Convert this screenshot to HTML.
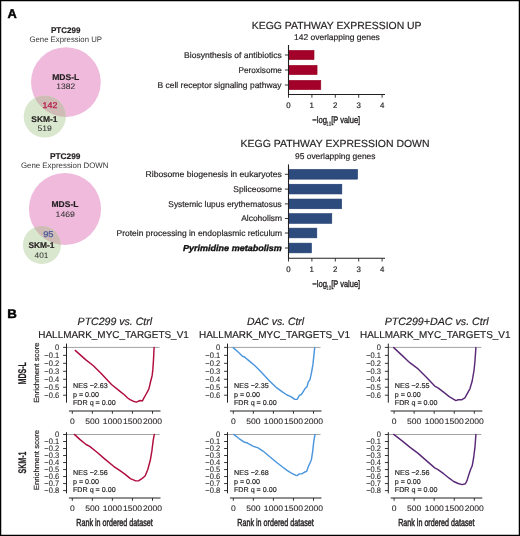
<!DOCTYPE html>
<html><head><meta charset="utf-8"><style>
html,body{margin:0;padding:0;background:#fff;overflow:hidden;width:520px;height:536px;}
svg{display:block;will-change:transform;text-rendering:geometricPrecision;font-family:"Liberation Sans",sans-serif;}
</style></head><body>
<svg width="520" height="536" viewBox="0 0 520 536">
<rect width="520" height="536" fill="#fff"/>
<rect x="0.6" y="0.6" width="518.8" height="534.8" fill="none" stroke="#000" stroke-width="1.3"/>
<text x="7.47" y="18.45" font-size="12.8" font-weight="bold" fill="#000" textLength="9.27" lengthAdjust="spacingAndGlyphs" stroke="#000" stroke-width="0.45">A</text>
<text x="7.32" y="317.70" font-size="12.4" font-weight="bold" fill="#000" textLength="9.59" lengthAdjust="spacingAndGlyphs" stroke="#000" stroke-width="0.45">B</text>
<clipPath id="c1"><circle cx="44.8" cy="116.5" r="21.1"/></clipPath>
<circle cx="65.9" cy="82.1" r="34.9" fill="#efbadb"/>
<circle cx="44.8" cy="116.5" r="21.1" fill="#d8e7cd"/>
<circle cx="65.9" cy="82.1" r="34.9" fill="#cfbcb7" clip-path="url(#c1)"/>
<text x="50.97" y="33.00" font-size="8.2" font-weight="bold" fill="#231f20" textLength="29.42" lengthAdjust="spacingAndGlyphs" stroke="#231f20" stroke-width="0.18">PTC299</text>
<text x="29.51" y="41.60" font-size="7.9" fill="#3a3a3a" textLength="72.41" lengthAdjust="spacingAndGlyphs" stroke="#3a3a3a" stroke-width="0.01">Gene Expression UP</text>
<text x="52.23" y="79.80" font-size="8.3" font-weight="bold" fill="#231f20" textLength="27.12" lengthAdjust="spacingAndGlyphs" stroke="#231f20" stroke-width="0.18">MDS-L</text>
<text x="56.36" y="89.30" font-size="8.0" fill="#333" textLength="18.87" lengthAdjust="spacingAndGlyphs" stroke="#333" stroke-width="0.05">1382</text>
<text x="42.63" y="107.70" font-size="8.3" fill="#b81a48" textLength="14.72" lengthAdjust="spacingAndGlyphs" stroke="#b81a48" stroke-width="0.3">142</text>
<text x="31.35" y="121.60" font-size="8.3" font-weight="bold" fill="#231f20" textLength="26.18" lengthAdjust="spacingAndGlyphs" stroke="#231f20" stroke-width="0.18">SKM-1</text>
<text x="37.56" y="130.70" font-size="8.0" fill="#333" textLength="14.36" lengthAdjust="spacingAndGlyphs" stroke="#333" stroke-width="0.05">519</text>
<clipPath id="c2"><circle cx="41.9" cy="245.0" r="19.0"/></clipPath>
<circle cx="65.0" cy="209.0" r="36.1" fill="#efbadb"/>
<circle cx="41.9" cy="245.0" r="19.0" fill="#d8e7cd"/>
<circle cx="65.0" cy="209.0" r="36.1" fill="#cfbcb7" clip-path="url(#c2)"/>
<text x="49.95" y="159.20" font-size="8.2" font-weight="bold" fill="#231f20" textLength="30.55" lengthAdjust="spacingAndGlyphs" stroke="#231f20" stroke-width="0.18">PTC299</text>
<text x="20.91" y="168.20" font-size="7.9" fill="#3a3a3a" textLength="87.55" lengthAdjust="spacingAndGlyphs" stroke="#3a3a3a" stroke-width="0.01">Gene Expression DOWN</text>
<text x="51.54" y="207.30" font-size="8.3" font-weight="bold" fill="#231f20" textLength="26.92" lengthAdjust="spacingAndGlyphs" stroke="#231f20" stroke-width="0.18">MDS-L</text>
<text x="55.64" y="216.60" font-size="8.0" fill="#333" textLength="19.28" lengthAdjust="spacingAndGlyphs" stroke="#333" stroke-width="0.05">1469</text>
<text x="43.17" y="236.80" font-size="8.3" fill="#44599a" textLength="10.32" lengthAdjust="spacingAndGlyphs" stroke="#44599a" stroke-width="0.25">95</text>
<text x="28.45" y="248.40" font-size="8.3" font-weight="bold" fill="#231f20" textLength="25.98" lengthAdjust="spacingAndGlyphs" stroke="#231f20" stroke-width="0.18">SKM-1</text>
<text x="34.62" y="257.60" font-size="8.0" fill="#333" textLength="13.78" lengthAdjust="spacingAndGlyphs" stroke="#333" stroke-width="0.05">401</text>
<text x="251.85" y="28.50" font-size="10.3" fill="#231f20" textLength="169.71" lengthAdjust="spacingAndGlyphs" stroke="#231f20" stroke-width="0.18">KEGG PATHWAY EXPRESSION UP</text>
<text x="293.95" y="40.00" font-size="8.3" fill="#231f20" textLength="85.94" lengthAdjust="spacingAndGlyphs" stroke="#231f20" stroke-width="0.18">142 overlapping genes</text>
<rect x="288.5" y="50.40" width="25.51" height="9.2" fill="#a3002a" stroke="#93001f" stroke-width="0.6"/>
<rect x="288.5" y="65.40" width="28.55" height="9.2" fill="#a3002a" stroke="#93001f" stroke-width="0.6"/>
<rect x="288.5" y="80.40" width="32.29" height="9.2" fill="#a3002a" stroke="#93001f" stroke-width="0.6"/>
<line x1="288.5" y1="45.0" x2="288.5" y2="95.0" stroke="#231f20" stroke-width="1.1"/>
<line x1="284.9" y1="55" x2="288.5" y2="55" stroke="#231f20" stroke-width="0.9"/>
<line x1="284.9" y1="70" x2="288.5" y2="70" stroke="#231f20" stroke-width="0.9"/>
<line x1="284.9" y1="85" x2="288.5" y2="85" stroke="#231f20" stroke-width="0.9"/>
<line x1="288.5" y1="94.5" x2="385.0" y2="94.5" stroke="#231f20" stroke-width="1.1"/>
<line x1="288.50" y1="94.5" x2="288.50" y2="97.7" stroke="#231f20" stroke-width="0.9"/>
<text x="286.31" y="108.20" font-size="8.0" fill="#231f20" textLength="4.36" lengthAdjust="spacingAndGlyphs" stroke="#231f20" stroke-width="0.2">0</text>
<line x1="311.90" y1="94.5" x2="311.90" y2="97.7" stroke="#231f20" stroke-width="0.9"/>
<text x="309.61" y="108.20" font-size="8.0" fill="#231f20" textLength="4.36" lengthAdjust="spacingAndGlyphs" stroke="#231f20" stroke-width="0.2">1</text>
<line x1="335.30" y1="94.5" x2="335.30" y2="97.7" stroke="#231f20" stroke-width="0.9"/>
<text x="333.12" y="108.20" font-size="8.0" fill="#231f20" textLength="4.36" lengthAdjust="spacingAndGlyphs" stroke="#231f20" stroke-width="0.2">2</text>
<line x1="358.70" y1="94.5" x2="358.70" y2="97.7" stroke="#231f20" stroke-width="0.9"/>
<text x="356.54" y="108.20" font-size="8.0" fill="#231f20" textLength="4.36" lengthAdjust="spacingAndGlyphs" stroke="#231f20" stroke-width="0.2">3</text>
<line x1="382.10" y1="94.5" x2="382.10" y2="97.7" stroke="#231f20" stroke-width="0.9"/>
<text x="379.95" y="108.20" font-size="8.0" fill="#231f20" textLength="4.36" lengthAdjust="spacingAndGlyphs" stroke="#231f20" stroke-width="0.2">4</text>
<text x="312.22" y="122.70" font-size="9.4" fill="#231f20" textLength="14.68" lengthAdjust="spacingAndGlyphs" stroke="#231f20" stroke-width="0.35">−log</text>
<text x="326.26" y="125.70" font-size="6.4" fill="#231f20" textLength="4.90" lengthAdjust="spacingAndGlyphs" stroke="#231f20" stroke-width="0.12">10</text>
<text x="331.16" y="122.70" font-size="9.4" fill="#231f20" textLength="28.97" lengthAdjust="spacingAndGlyphs" stroke="#231f20" stroke-width="0.35">[P value]</text>
<text x="184.10" y="57.80" font-size="8.4" fill="#231f20" textLength="97.71" lengthAdjust="spacingAndGlyphs" stroke="#231f20" stroke-width="0.18">Biosynthesis of antibiotics</text>
<text x="238.53" y="72.80" font-size="8.4" fill="#231f20" textLength="43.33" lengthAdjust="spacingAndGlyphs" stroke="#231f20" stroke-width="0.18">Peroxisome</text>
<text x="157.50" y="87.60" font-size="8.4" fill="#231f20" textLength="124.01" lengthAdjust="spacingAndGlyphs" stroke="#231f20" stroke-width="0.18">B cell receptor signaling pathway</text>
<text x="240.64" y="146.90" font-size="10.3" fill="#231f20" textLength="188.92" lengthAdjust="spacingAndGlyphs" stroke="#231f20" stroke-width="0.18">KEGG PATHWAY EXPRESSION DOWN</text>
<text x="295.01" y="158.60" font-size="8.3" fill="#231f20" textLength="80.48" lengthAdjust="spacingAndGlyphs" stroke="#231f20" stroke-width="0.18">95 overlapping genes</text>
<rect x="288.5" y="169.45" width="69.03" height="9.7" fill="#2e4b7d" stroke="#1f3a6e" stroke-width="0.6"/>
<rect x="288.5" y="184.25" width="53.35" height="9.7" fill="#2e4b7d" stroke="#1f3a6e" stroke-width="0.6"/>
<rect x="288.5" y="199.05" width="53.12" height="9.7" fill="#2e4b7d" stroke="#1f3a6e" stroke-width="0.6"/>
<rect x="288.5" y="213.65" width="43.29" height="9.7" fill="#2e4b7d" stroke="#1f3a6e" stroke-width="0.6"/>
<rect x="288.5" y="228.15" width="28.31" height="9.7" fill="#2e4b7d" stroke="#1f3a6e" stroke-width="0.6"/>
<rect x="288.5" y="243.15" width="22.93" height="9.7" fill="#2e4b7d" stroke="#1f3a6e" stroke-width="0.6"/>
<line x1="288.5" y1="164.4" x2="288.5" y2="259.0" stroke="#231f20" stroke-width="1.1"/>
<line x1="284.9" y1="174.3" x2="288.5" y2="174.3" stroke="#231f20" stroke-width="0.9"/>
<line x1="284.9" y1="189.1" x2="288.5" y2="189.1" stroke="#231f20" stroke-width="0.9"/>
<line x1="284.9" y1="203.9" x2="288.5" y2="203.9" stroke="#231f20" stroke-width="0.9"/>
<line x1="284.9" y1="218.5" x2="288.5" y2="218.5" stroke="#231f20" stroke-width="0.9"/>
<line x1="284.9" y1="233.0" x2="288.5" y2="233.0" stroke="#231f20" stroke-width="0.9"/>
<line x1="284.9" y1="248.0" x2="288.5" y2="248.0" stroke="#231f20" stroke-width="0.9"/>
<line x1="288.5" y1="258.3" x2="385.0" y2="258.3" stroke="#231f20" stroke-width="1.1"/>
<line x1="288.50" y1="258.3" x2="288.50" y2="261.5" stroke="#231f20" stroke-width="0.9"/>
<text x="286.31" y="272.00" font-size="8.0" fill="#231f20" textLength="4.36" lengthAdjust="spacingAndGlyphs" stroke="#231f20" stroke-width="0.2">0</text>
<line x1="311.90" y1="258.3" x2="311.90" y2="261.5" stroke="#231f20" stroke-width="0.9"/>
<text x="309.61" y="272.00" font-size="8.0" fill="#231f20" textLength="4.36" lengthAdjust="spacingAndGlyphs" stroke="#231f20" stroke-width="0.2">1</text>
<line x1="335.30" y1="258.3" x2="335.30" y2="261.5" stroke="#231f20" stroke-width="0.9"/>
<text x="333.12" y="272.00" font-size="8.0" fill="#231f20" textLength="4.36" lengthAdjust="spacingAndGlyphs" stroke="#231f20" stroke-width="0.2">2</text>
<line x1="358.70" y1="258.3" x2="358.70" y2="261.5" stroke="#231f20" stroke-width="0.9"/>
<text x="356.54" y="272.00" font-size="8.0" fill="#231f20" textLength="4.36" lengthAdjust="spacingAndGlyphs" stroke="#231f20" stroke-width="0.2">3</text>
<line x1="382.10" y1="258.3" x2="382.10" y2="261.5" stroke="#231f20" stroke-width="0.9"/>
<text x="379.95" y="272.00" font-size="8.0" fill="#231f20" textLength="4.36" lengthAdjust="spacingAndGlyphs" stroke="#231f20" stroke-width="0.2">4</text>
<text x="312.22" y="286.50" font-size="9.4" fill="#231f20" textLength="14.68" lengthAdjust="spacingAndGlyphs" stroke="#231f20" stroke-width="0.35">−log</text>
<text x="326.26" y="289.50" font-size="6.4" fill="#231f20" textLength="4.90" lengthAdjust="spacingAndGlyphs" stroke="#231f20" stroke-width="0.12">10</text>
<text x="331.16" y="286.50" font-size="9.4" fill="#231f20" textLength="28.97" lengthAdjust="spacingAndGlyphs" stroke="#231f20" stroke-width="0.35">[P value]</text>
<text x="145.49" y="177.00" font-size="8.4" fill="#231f20" textLength="136.32" lengthAdjust="spacingAndGlyphs" stroke="#231f20" stroke-width="0.18">Ribosome biogenesis in eukaryotes</text>
<text x="233.31" y="191.80" font-size="8.4" fill="#231f20" textLength="48.57" lengthAdjust="spacingAndGlyphs" stroke="#231f20" stroke-width="0.18">Spliceosome</text>
<text x="168.32" y="206.60" font-size="8.4" fill="#231f20" textLength="113.48" lengthAdjust="spacingAndGlyphs" stroke="#231f20" stroke-width="0.18">Systemic lupus erythematosus</text>
<text x="241.18" y="221.10" font-size="8.4" fill="#231f20" textLength="40.87" lengthAdjust="spacingAndGlyphs" stroke="#231f20" stroke-width="0.18">Alcoholism</text>
<text x="116.61" y="235.90" font-size="8.4" fill="#231f20" textLength="165.44" lengthAdjust="spacingAndGlyphs" stroke="#231f20" stroke-width="0.18">Protein processing in endoplasmic reticulum</text>
<text x="182.94" y="250.70" font-size="8.6" font-weight="bold" font-style="italic" fill="#111" textLength="98.94" lengthAdjust="spacingAndGlyphs" stroke="#111" stroke-width="0.35">Pyrimidine metabolism</text>
<text x="77.58" y="325.00" font-size="10.6" font-style="italic" fill="#231f20" textLength="74.58" lengthAdjust="spacingAndGlyphs" stroke="#231f20" stroke-width="0.18">PTC299 vs. Ctrl</text>
<text x="38.34" y="337.90" font-size="10.0" fill="#231f20" textLength="150.45" lengthAdjust="spacingAndGlyphs" stroke="#231f20" stroke-width="0.18">HALLMARK_MYC_TARGETS_V1</text>
<line x1="66.5" y1="347.4" x2="159.5" y2="347.4" stroke="#8c8c8c" stroke-width="0.8"/>
<line x1="66.5" y1="343.6" x2="66.5" y2="402.7" stroke="#231f20" stroke-width="1.0"/>
<line x1="63.1" y1="347.40" x2="66.5" y2="347.40" stroke="#231f20" stroke-width="0.9"/>
<text x="55.02" y="350.20" font-size="8.0" fill="#231f20" textLength="4.18" lengthAdjust="spacingAndGlyphs" stroke="#231f20" stroke-width="0.08">0</text>
<line x1="63.1" y1="355.37" x2="66.5" y2="355.37" stroke="#231f20" stroke-width="0.9"/>
<text x="44.35" y="358.17" font-size="8.0" fill="#231f20" textLength="14.85" lengthAdjust="spacingAndGlyphs" stroke="#231f20" stroke-width="0.08">−0.1</text>
<line x1="63.1" y1="363.34" x2="66.5" y2="363.34" stroke="#231f20" stroke-width="0.9"/>
<text x="44.35" y="366.14" font-size="8.0" fill="#231f20" textLength="14.85" lengthAdjust="spacingAndGlyphs" stroke="#231f20" stroke-width="0.08">−0.2</text>
<line x1="63.1" y1="371.31" x2="66.5" y2="371.31" stroke="#231f20" stroke-width="0.9"/>
<text x="44.35" y="374.11" font-size="8.0" fill="#231f20" textLength="14.85" lengthAdjust="spacingAndGlyphs" stroke="#231f20" stroke-width="0.08">−0.3</text>
<line x1="63.1" y1="379.28" x2="66.5" y2="379.28" stroke="#231f20" stroke-width="0.9"/>
<text x="44.35" y="382.08" font-size="8.0" fill="#231f20" textLength="14.85" lengthAdjust="spacingAndGlyphs" stroke="#231f20" stroke-width="0.08">−0.4</text>
<line x1="63.1" y1="387.25" x2="66.5" y2="387.25" stroke="#231f20" stroke-width="0.9"/>
<text x="44.35" y="390.05" font-size="8.0" fill="#231f20" textLength="14.85" lengthAdjust="spacingAndGlyphs" stroke="#231f20" stroke-width="0.08">−0.5</text>
<line x1="63.1" y1="395.22" x2="66.5" y2="395.22" stroke="#231f20" stroke-width="0.9"/>
<text x="44.35" y="398.02" font-size="8.0" fill="#231f20" textLength="14.85" lengthAdjust="spacingAndGlyphs" stroke="#231f20" stroke-width="0.08">−0.6</text>
<line x1="68.9" y1="411.0" x2="160.5" y2="411.0" stroke="#231f20" stroke-width="1.0"/>
<line x1="72.30" y1="411.0" x2="72.30" y2="413.8" stroke="#231f20" stroke-width="0.9"/>
<text x="69.92" y="424.40" font-size="8.0" fill="#231f20" textLength="4.76" lengthAdjust="spacingAndGlyphs" stroke="#231f20" stroke-width="0.08">0</text>
<line x1="92.35" y1="411.0" x2="92.35" y2="413.8" stroke="#231f20" stroke-width="0.9"/>
<text x="85.21" y="424.40" font-size="8.0" fill="#231f20" textLength="14.28" lengthAdjust="spacingAndGlyphs" stroke="#231f20" stroke-width="0.08">500</text>
<line x1="112.40" y1="411.0" x2="112.40" y2="413.8" stroke="#231f20" stroke-width="0.9"/>
<text x="102.88" y="424.40" font-size="8.0" fill="#231f20" textLength="19.04" lengthAdjust="spacingAndGlyphs" stroke="#231f20" stroke-width="0.08">1000</text>
<line x1="132.45" y1="411.0" x2="132.45" y2="413.8" stroke="#231f20" stroke-width="0.9"/>
<text x="122.93" y="424.40" font-size="8.0" fill="#231f20" textLength="19.04" lengthAdjust="spacingAndGlyphs" stroke="#231f20" stroke-width="0.08">1500</text>
<line x1="152.50" y1="411.0" x2="152.50" y2="413.8" stroke="#231f20" stroke-width="0.9"/>
<text x="142.98" y="424.40" font-size="8.0" fill="#231f20" textLength="19.04" lengthAdjust="spacingAndGlyphs" stroke="#231f20" stroke-width="0.08">2000</text>
<polyline points="75.20,350.40 85.60,359.60 93.40,365.80 101.20,373.60 111.50,384.50 120.00,391.40 124.60,395.00 127.70,398.00 130.00,399.60 133.20,401.20 136.30,402.10 140.10,400.50 142.40,400.90 143.60,398.60 145.90,394.50 148.70,389.40 149.70,385.60 150.60,381.50 151.60,377.70 152.20,375.20 152.80,369.90 153.50,359.70 154.10,347.50" fill="none" stroke="#b00c3e" stroke-width="1.45" stroke-linejoin="round" stroke-linecap="round"/>
<text x="73.00" y="387.60" font-size="7.0" fill="#231f20" textLength="34.73" lengthAdjust="spacingAndGlyphs" stroke="#231f20" stroke-width="0.18">NES −2.63</text>
<text x="73.00" y="396.70" font-size="7.0" fill="#231f20" textLength="26.00" lengthAdjust="spacingAndGlyphs" stroke="#231f20" stroke-width="0.18">p = 0.00</text>
<text x="73.00" y="405.40" font-size="7.0" fill="#231f20" textLength="42.66" lengthAdjust="spacingAndGlyphs" stroke="#231f20" stroke-width="0.18">FDR q = 0.00</text>
<line x1="66.5" y1="434.5" x2="159.5" y2="434.5" stroke="#8c8c8c" stroke-width="0.8"/>
<line x1="66.5" y1="432.2" x2="66.5" y2="493.3" stroke="#231f20" stroke-width="1.0"/>
<line x1="63.1" y1="434.50" x2="66.5" y2="434.50" stroke="#231f20" stroke-width="0.9"/>
<text x="55.02" y="437.30" font-size="8.0" fill="#231f20" textLength="4.18" lengthAdjust="spacingAndGlyphs" stroke="#231f20" stroke-width="0.08">0</text>
<line x1="63.1" y1="441.51" x2="66.5" y2="441.51" stroke="#231f20" stroke-width="0.9"/>
<text x="44.35" y="444.31" font-size="8.0" fill="#231f20" textLength="14.85" lengthAdjust="spacingAndGlyphs" stroke="#231f20" stroke-width="0.08">−0.1</text>
<line x1="63.1" y1="448.52" x2="66.5" y2="448.52" stroke="#231f20" stroke-width="0.9"/>
<text x="44.35" y="451.32" font-size="8.0" fill="#231f20" textLength="14.85" lengthAdjust="spacingAndGlyphs" stroke="#231f20" stroke-width="0.08">−0.2</text>
<line x1="63.1" y1="455.53" x2="66.5" y2="455.53" stroke="#231f20" stroke-width="0.9"/>
<text x="44.35" y="458.33" font-size="8.0" fill="#231f20" textLength="14.85" lengthAdjust="spacingAndGlyphs" stroke="#231f20" stroke-width="0.08">−0.3</text>
<line x1="63.1" y1="462.54" x2="66.5" y2="462.54" stroke="#231f20" stroke-width="0.9"/>
<text x="44.35" y="465.34" font-size="8.0" fill="#231f20" textLength="14.85" lengthAdjust="spacingAndGlyphs" stroke="#231f20" stroke-width="0.08">−0.4</text>
<line x1="63.1" y1="469.55" x2="66.5" y2="469.55" stroke="#231f20" stroke-width="0.9"/>
<text x="44.35" y="472.35" font-size="8.0" fill="#231f20" textLength="14.85" lengthAdjust="spacingAndGlyphs" stroke="#231f20" stroke-width="0.08">−0.5</text>
<line x1="63.1" y1="476.56" x2="66.5" y2="476.56" stroke="#231f20" stroke-width="0.9"/>
<text x="44.35" y="479.36" font-size="8.0" fill="#231f20" textLength="14.85" lengthAdjust="spacingAndGlyphs" stroke="#231f20" stroke-width="0.08">−0.6</text>
<line x1="63.1" y1="483.57" x2="66.5" y2="483.57" stroke="#231f20" stroke-width="0.9"/>
<text x="44.35" y="486.37" font-size="8.0" fill="#231f20" textLength="14.85" lengthAdjust="spacingAndGlyphs" stroke="#231f20" stroke-width="0.08">−0.7</text>
<line x1="63.1" y1="490.58" x2="66.5" y2="490.58" stroke="#231f20" stroke-width="0.9"/>
<text x="44.35" y="493.38" font-size="8.0" fill="#231f20" textLength="14.85" lengthAdjust="spacingAndGlyphs" stroke="#231f20" stroke-width="0.08">−0.8</text>
<line x1="68.9" y1="498.0" x2="160.5" y2="498.0" stroke="#231f20" stroke-width="1.0"/>
<line x1="72.30" y1="498.0" x2="72.30" y2="500.8" stroke="#231f20" stroke-width="0.9"/>
<text x="69.92" y="511.40" font-size="8.0" fill="#231f20" textLength="4.76" lengthAdjust="spacingAndGlyphs" stroke="#231f20" stroke-width="0.08">0</text>
<line x1="92.35" y1="498.0" x2="92.35" y2="500.8" stroke="#231f20" stroke-width="0.9"/>
<text x="85.21" y="511.40" font-size="8.0" fill="#231f20" textLength="14.28" lengthAdjust="spacingAndGlyphs" stroke="#231f20" stroke-width="0.08">500</text>
<line x1="112.40" y1="498.0" x2="112.40" y2="500.8" stroke="#231f20" stroke-width="0.9"/>
<text x="102.88" y="511.40" font-size="8.0" fill="#231f20" textLength="19.04" lengthAdjust="spacingAndGlyphs" stroke="#231f20" stroke-width="0.08">1000</text>
<line x1="132.45" y1="498.0" x2="132.45" y2="500.8" stroke="#231f20" stroke-width="0.9"/>
<text x="122.93" y="511.40" font-size="8.0" fill="#231f20" textLength="19.04" lengthAdjust="spacingAndGlyphs" stroke="#231f20" stroke-width="0.08">1500</text>
<line x1="152.50" y1="498.0" x2="152.50" y2="500.8" stroke="#231f20" stroke-width="0.9"/>
<text x="142.98" y="511.40" font-size="8.0" fill="#231f20" textLength="19.04" lengthAdjust="spacingAndGlyphs" stroke="#231f20" stroke-width="0.08">2000</text>
<polyline points="74.40,434.40 80.40,439.90 86.10,444.50 89.70,446.40 97.00,452.30 104.30,458.60 113.60,466.30 120.00,470.70 125.20,474.40 130.40,478.60 135.70,480.90 138.80,480.70 141.90,478.60 145.10,476.00 147.70,469.70 150.30,460.30 151.90,450.90 153.20,440.40 154.30,434.40" fill="none" stroke="#b00c3e" stroke-width="1.45" stroke-linejoin="round" stroke-linecap="round"/>
<text x="73.00" y="474.60" font-size="7.0" fill="#231f20" textLength="34.73" lengthAdjust="spacingAndGlyphs" stroke="#231f20" stroke-width="0.18">NES −2.56</text>
<text x="73.00" y="483.70" font-size="7.0" fill="#231f20" textLength="26.00" lengthAdjust="spacingAndGlyphs" stroke="#231f20" stroke-width="0.18">p = 0.00</text>
<text x="73.00" y="492.40" font-size="7.0" fill="#231f20" textLength="42.66" lengthAdjust="spacingAndGlyphs" stroke="#231f20" stroke-width="0.18">FDR q = 0.00</text>
<text x="76.33" y="525.50" font-size="10.3" fill="#231f20" textLength="76.41" lengthAdjust="spacingAndGlyphs" stroke="#231f20" stroke-width="0.45">Rank in ordered dataset</text>
<text x="246.89" y="325.00" font-size="10.6" font-style="italic" fill="#231f20" textLength="57.28" lengthAdjust="spacingAndGlyphs" stroke="#231f20" stroke-width="0.18">DAC vs. Ctrl</text>
<text x="198.98" y="337.90" font-size="10.0" fill="#231f20" textLength="151.00" lengthAdjust="spacingAndGlyphs" stroke="#231f20" stroke-width="0.18">HALLMARK_MYC_TARGETS_V1</text>
<line x1="227.5" y1="347.4" x2="320.5" y2="347.4" stroke="#8c8c8c" stroke-width="0.8"/>
<line x1="227.5" y1="343.6" x2="227.5" y2="402.7" stroke="#231f20" stroke-width="1.0"/>
<line x1="224.1" y1="347.40" x2="227.5" y2="347.40" stroke="#231f20" stroke-width="0.9"/>
<text x="216.02" y="350.20" font-size="8.0" fill="#231f20" textLength="4.18" lengthAdjust="spacingAndGlyphs" stroke="#231f20" stroke-width="0.08">0</text>
<line x1="224.1" y1="355.37" x2="227.5" y2="355.37" stroke="#231f20" stroke-width="0.9"/>
<text x="205.35" y="358.17" font-size="8.0" fill="#231f20" textLength="14.85" lengthAdjust="spacingAndGlyphs" stroke="#231f20" stroke-width="0.08">−0.1</text>
<line x1="224.1" y1="363.34" x2="227.5" y2="363.34" stroke="#231f20" stroke-width="0.9"/>
<text x="205.35" y="366.14" font-size="8.0" fill="#231f20" textLength="14.85" lengthAdjust="spacingAndGlyphs" stroke="#231f20" stroke-width="0.08">−0.2</text>
<line x1="224.1" y1="371.31" x2="227.5" y2="371.31" stroke="#231f20" stroke-width="0.9"/>
<text x="205.35" y="374.11" font-size="8.0" fill="#231f20" textLength="14.85" lengthAdjust="spacingAndGlyphs" stroke="#231f20" stroke-width="0.08">−0.3</text>
<line x1="224.1" y1="379.28" x2="227.5" y2="379.28" stroke="#231f20" stroke-width="0.9"/>
<text x="205.35" y="382.08" font-size="8.0" fill="#231f20" textLength="14.85" lengthAdjust="spacingAndGlyphs" stroke="#231f20" stroke-width="0.08">−0.4</text>
<line x1="224.1" y1="387.25" x2="227.5" y2="387.25" stroke="#231f20" stroke-width="0.9"/>
<text x="205.35" y="390.05" font-size="8.0" fill="#231f20" textLength="14.85" lengthAdjust="spacingAndGlyphs" stroke="#231f20" stroke-width="0.08">−0.5</text>
<line x1="224.1" y1="395.22" x2="227.5" y2="395.22" stroke="#231f20" stroke-width="0.9"/>
<text x="205.35" y="398.02" font-size="8.0" fill="#231f20" textLength="14.85" lengthAdjust="spacingAndGlyphs" stroke="#231f20" stroke-width="0.08">−0.6</text>
<line x1="229.9" y1="411.0" x2="321.5" y2="411.0" stroke="#231f20" stroke-width="1.0"/>
<line x1="233.30" y1="411.0" x2="233.30" y2="413.8" stroke="#231f20" stroke-width="0.9"/>
<text x="230.92" y="424.40" font-size="8.0" fill="#231f20" textLength="4.76" lengthAdjust="spacingAndGlyphs" stroke="#231f20" stroke-width="0.08">0</text>
<line x1="253.35" y1="411.0" x2="253.35" y2="413.8" stroke="#231f20" stroke-width="0.9"/>
<text x="246.21" y="424.40" font-size="8.0" fill="#231f20" textLength="14.28" lengthAdjust="spacingAndGlyphs" stroke="#231f20" stroke-width="0.08">500</text>
<line x1="273.40" y1="411.0" x2="273.40" y2="413.8" stroke="#231f20" stroke-width="0.9"/>
<text x="263.88" y="424.40" font-size="8.0" fill="#231f20" textLength="19.04" lengthAdjust="spacingAndGlyphs" stroke="#231f20" stroke-width="0.08">1000</text>
<line x1="293.45" y1="411.0" x2="293.45" y2="413.8" stroke="#231f20" stroke-width="0.9"/>
<text x="283.93" y="424.40" font-size="8.0" fill="#231f20" textLength="19.04" lengthAdjust="spacingAndGlyphs" stroke="#231f20" stroke-width="0.08">1500</text>
<line x1="313.50" y1="411.0" x2="313.50" y2="413.8" stroke="#231f20" stroke-width="0.9"/>
<text x="303.98" y="424.40" font-size="8.0" fill="#231f20" textLength="19.04" lengthAdjust="spacingAndGlyphs" stroke="#231f20" stroke-width="0.08">2000</text>
<polyline points="233.20,347.60 238.40,352.30 242.50,356.30 244.60,357.00 248.80,360.60 255.00,365.80 261.20,372.00 269.50,380.90 275.80,387.10 282.00,391.60 287.00,395.00 290.90,396.60 294.80,399.40 297.30,399.20 299.30,395.50 301.50,394.40 304.90,388.80 307.10,386.60 308.20,382.10 309.90,379.80 311.40,373.10 312.90,364.70 313.80,356.30 314.70,347.60" fill="none" stroke="#4b96dc" stroke-width="1.45" stroke-linejoin="round" stroke-linecap="round"/>
<text x="234.00" y="387.60" font-size="7.0" fill="#231f20" textLength="34.73" lengthAdjust="spacingAndGlyphs" stroke="#231f20" stroke-width="0.18">NES −2.35</text>
<text x="234.00" y="396.70" font-size="7.0" fill="#231f20" textLength="26.00" lengthAdjust="spacingAndGlyphs" stroke="#231f20" stroke-width="0.18">p = 0.00</text>
<text x="234.00" y="405.40" font-size="7.0" fill="#231f20" textLength="42.66" lengthAdjust="spacingAndGlyphs" stroke="#231f20" stroke-width="0.18">FDR q = 0.00</text>
<line x1="227.5" y1="434.5" x2="320.5" y2="434.5" stroke="#8c8c8c" stroke-width="0.8"/>
<line x1="227.5" y1="432.2" x2="227.5" y2="493.3" stroke="#231f20" stroke-width="1.0"/>
<line x1="224.1" y1="434.50" x2="227.5" y2="434.50" stroke="#231f20" stroke-width="0.9"/>
<text x="216.02" y="437.30" font-size="8.0" fill="#231f20" textLength="4.18" lengthAdjust="spacingAndGlyphs" stroke="#231f20" stroke-width="0.08">0</text>
<line x1="224.1" y1="441.51" x2="227.5" y2="441.51" stroke="#231f20" stroke-width="0.9"/>
<text x="205.35" y="444.31" font-size="8.0" fill="#231f20" textLength="14.85" lengthAdjust="spacingAndGlyphs" stroke="#231f20" stroke-width="0.08">−0.1</text>
<line x1="224.1" y1="448.52" x2="227.5" y2="448.52" stroke="#231f20" stroke-width="0.9"/>
<text x="205.35" y="451.32" font-size="8.0" fill="#231f20" textLength="14.85" lengthAdjust="spacingAndGlyphs" stroke="#231f20" stroke-width="0.08">−0.2</text>
<line x1="224.1" y1="455.53" x2="227.5" y2="455.53" stroke="#231f20" stroke-width="0.9"/>
<text x="205.35" y="458.33" font-size="8.0" fill="#231f20" textLength="14.85" lengthAdjust="spacingAndGlyphs" stroke="#231f20" stroke-width="0.08">−0.3</text>
<line x1="224.1" y1="462.54" x2="227.5" y2="462.54" stroke="#231f20" stroke-width="0.9"/>
<text x="205.35" y="465.34" font-size="8.0" fill="#231f20" textLength="14.85" lengthAdjust="spacingAndGlyphs" stroke="#231f20" stroke-width="0.08">−0.4</text>
<line x1="224.1" y1="469.55" x2="227.5" y2="469.55" stroke="#231f20" stroke-width="0.9"/>
<text x="205.35" y="472.35" font-size="8.0" fill="#231f20" textLength="14.85" lengthAdjust="spacingAndGlyphs" stroke="#231f20" stroke-width="0.08">−0.5</text>
<line x1="224.1" y1="476.56" x2="227.5" y2="476.56" stroke="#231f20" stroke-width="0.9"/>
<text x="205.35" y="479.36" font-size="8.0" fill="#231f20" textLength="14.85" lengthAdjust="spacingAndGlyphs" stroke="#231f20" stroke-width="0.08">−0.6</text>
<line x1="224.1" y1="483.57" x2="227.5" y2="483.57" stroke="#231f20" stroke-width="0.9"/>
<text x="205.35" y="486.37" font-size="8.0" fill="#231f20" textLength="14.85" lengthAdjust="spacingAndGlyphs" stroke="#231f20" stroke-width="0.08">−0.7</text>
<line x1="224.1" y1="490.58" x2="227.5" y2="490.58" stroke="#231f20" stroke-width="0.9"/>
<text x="205.35" y="493.38" font-size="8.0" fill="#231f20" textLength="14.85" lengthAdjust="spacingAndGlyphs" stroke="#231f20" stroke-width="0.08">−0.8</text>
<line x1="229.9" y1="498.0" x2="321.5" y2="498.0" stroke="#231f20" stroke-width="1.0"/>
<line x1="233.30" y1="498.0" x2="233.30" y2="500.8" stroke="#231f20" stroke-width="0.9"/>
<text x="230.92" y="511.40" font-size="8.0" fill="#231f20" textLength="4.76" lengthAdjust="spacingAndGlyphs" stroke="#231f20" stroke-width="0.08">0</text>
<line x1="253.35" y1="498.0" x2="253.35" y2="500.8" stroke="#231f20" stroke-width="0.9"/>
<text x="246.21" y="511.40" font-size="8.0" fill="#231f20" textLength="14.28" lengthAdjust="spacingAndGlyphs" stroke="#231f20" stroke-width="0.08">500</text>
<line x1="273.40" y1="498.0" x2="273.40" y2="500.8" stroke="#231f20" stroke-width="0.9"/>
<text x="263.88" y="511.40" font-size="8.0" fill="#231f20" textLength="19.04" lengthAdjust="spacingAndGlyphs" stroke="#231f20" stroke-width="0.08">1000</text>
<line x1="293.45" y1="498.0" x2="293.45" y2="500.8" stroke="#231f20" stroke-width="0.9"/>
<text x="283.93" y="511.40" font-size="8.0" fill="#231f20" textLength="19.04" lengthAdjust="spacingAndGlyphs" stroke="#231f20" stroke-width="0.08">1500</text>
<line x1="313.50" y1="498.0" x2="313.50" y2="500.8" stroke="#231f20" stroke-width="0.9"/>
<text x="303.98" y="511.40" font-size="8.0" fill="#231f20" textLength="19.04" lengthAdjust="spacingAndGlyphs" stroke="#231f20" stroke-width="0.08">2000</text>
<polyline points="233.70,434.40 239.40,438.80 244.60,442.30 246.70,442.70 252.90,446.10 258.10,447.90 263.30,451.30 269.50,456.50 275.80,461.70 282.50,467.00 287.00,470.30 291.40,473.10 295.90,475.40 297.00,475.60 299.30,473.90 302.10,473.70 304.30,472.30 306.60,471.40 308.20,467.00 311.40,459.70 312.70,451.30 313.80,441.20 315.00,434.50" fill="none" stroke="#4b96dc" stroke-width="1.45" stroke-linejoin="round" stroke-linecap="round"/>
<text x="234.00" y="474.60" font-size="7.0" fill="#231f20" textLength="34.73" lengthAdjust="spacingAndGlyphs" stroke="#231f20" stroke-width="0.18">NES −2.68</text>
<text x="234.00" y="483.70" font-size="7.0" fill="#231f20" textLength="26.00" lengthAdjust="spacingAndGlyphs" stroke="#231f20" stroke-width="0.18">p = 0.00</text>
<text x="234.00" y="492.40" font-size="7.0" fill="#231f20" textLength="42.66" lengthAdjust="spacingAndGlyphs" stroke="#231f20" stroke-width="0.18">FDR q = 0.00</text>
<text x="237.33" y="525.50" font-size="10.3" fill="#231f20" textLength="76.41" lengthAdjust="spacingAndGlyphs" stroke="#231f20" stroke-width="0.45">Rank in ordered dataset</text>
<text x="384.68" y="325.00" font-size="10.6" font-style="italic" fill="#231f20" textLength="103.99" lengthAdjust="spacingAndGlyphs" stroke="#231f20" stroke-width="0.18">PTC299+DAC vs. Ctrl</text>
<text x="359.99" y="337.90" font-size="10.0" fill="#231f20" textLength="150.50" lengthAdjust="spacingAndGlyphs" stroke="#231f20" stroke-width="0.18">HALLMARK_MYC_TARGETS_V1</text>
<line x1="388.3" y1="347.4" x2="481.3" y2="347.4" stroke="#8c8c8c" stroke-width="0.8"/>
<line x1="388.3" y1="343.6" x2="388.3" y2="402.7" stroke="#231f20" stroke-width="1.0"/>
<line x1="384.90000000000003" y1="347.40" x2="388.3" y2="347.40" stroke="#231f20" stroke-width="0.9"/>
<text x="376.82" y="350.20" font-size="8.0" fill="#231f20" textLength="4.18" lengthAdjust="spacingAndGlyphs" stroke="#231f20" stroke-width="0.08">0</text>
<line x1="384.90000000000003" y1="355.37" x2="388.3" y2="355.37" stroke="#231f20" stroke-width="0.9"/>
<text x="366.15" y="358.17" font-size="8.0" fill="#231f20" textLength="14.85" lengthAdjust="spacingAndGlyphs" stroke="#231f20" stroke-width="0.08">−0.1</text>
<line x1="384.90000000000003" y1="363.34" x2="388.3" y2="363.34" stroke="#231f20" stroke-width="0.9"/>
<text x="366.15" y="366.14" font-size="8.0" fill="#231f20" textLength="14.85" lengthAdjust="spacingAndGlyphs" stroke="#231f20" stroke-width="0.08">−0.2</text>
<line x1="384.90000000000003" y1="371.31" x2="388.3" y2="371.31" stroke="#231f20" stroke-width="0.9"/>
<text x="366.15" y="374.11" font-size="8.0" fill="#231f20" textLength="14.85" lengthAdjust="spacingAndGlyphs" stroke="#231f20" stroke-width="0.08">−0.3</text>
<line x1="384.90000000000003" y1="379.28" x2="388.3" y2="379.28" stroke="#231f20" stroke-width="0.9"/>
<text x="366.15" y="382.08" font-size="8.0" fill="#231f20" textLength="14.85" lengthAdjust="spacingAndGlyphs" stroke="#231f20" stroke-width="0.08">−0.4</text>
<line x1="384.90000000000003" y1="387.25" x2="388.3" y2="387.25" stroke="#231f20" stroke-width="0.9"/>
<text x="366.15" y="390.05" font-size="8.0" fill="#231f20" textLength="14.85" lengthAdjust="spacingAndGlyphs" stroke="#231f20" stroke-width="0.08">−0.5</text>
<line x1="384.90000000000003" y1="395.22" x2="388.3" y2="395.22" stroke="#231f20" stroke-width="0.9"/>
<text x="366.15" y="398.02" font-size="8.0" fill="#231f20" textLength="14.85" lengthAdjust="spacingAndGlyphs" stroke="#231f20" stroke-width="0.08">−0.6</text>
<line x1="390.7" y1="411.0" x2="482.3" y2="411.0" stroke="#231f20" stroke-width="1.0"/>
<line x1="394.10" y1="411.0" x2="394.10" y2="413.8" stroke="#231f20" stroke-width="0.9"/>
<text x="391.72" y="424.40" font-size="8.0" fill="#231f20" textLength="4.76" lengthAdjust="spacingAndGlyphs" stroke="#231f20" stroke-width="0.08">0</text>
<line x1="414.15" y1="411.0" x2="414.15" y2="413.8" stroke="#231f20" stroke-width="0.9"/>
<text x="407.01" y="424.40" font-size="8.0" fill="#231f20" textLength="14.28" lengthAdjust="spacingAndGlyphs" stroke="#231f20" stroke-width="0.08">500</text>
<line x1="434.20" y1="411.0" x2="434.20" y2="413.8" stroke="#231f20" stroke-width="0.9"/>
<text x="424.68" y="424.40" font-size="8.0" fill="#231f20" textLength="19.04" lengthAdjust="spacingAndGlyphs" stroke="#231f20" stroke-width="0.08">1000</text>
<line x1="454.25" y1="411.0" x2="454.25" y2="413.8" stroke="#231f20" stroke-width="0.9"/>
<text x="444.73" y="424.40" font-size="8.0" fill="#231f20" textLength="19.04" lengthAdjust="spacingAndGlyphs" stroke="#231f20" stroke-width="0.08">1500</text>
<line x1="474.30" y1="411.0" x2="474.30" y2="413.8" stroke="#231f20" stroke-width="0.9"/>
<text x="464.78" y="424.40" font-size="8.0" fill="#231f20" textLength="19.04" lengthAdjust="spacingAndGlyphs" stroke="#231f20" stroke-width="0.08">2000</text>
<polyline points="393.70,347.60 401.50,354.90 409.80,362.70 418.10,368.90 426.40,377.20 434.70,386.10 438.00,387.90 443.60,392.20 449.20,396.60 455.90,400.60 458.20,399.80 461.50,399.80 464.90,397.80 467.10,393.80 469.90,388.80 472.20,381.00 474.10,369.80 475.00,360.80 475.90,347.60" fill="none" stroke="#5a2a78" stroke-width="1.45" stroke-linejoin="round" stroke-linecap="round"/>
<text x="394.80" y="387.60" font-size="7.0" fill="#231f20" textLength="34.73" lengthAdjust="spacingAndGlyphs" stroke="#231f20" stroke-width="0.18">NES −2.55</text>
<text x="394.80" y="396.70" font-size="7.0" fill="#231f20" textLength="26.00" lengthAdjust="spacingAndGlyphs" stroke="#231f20" stroke-width="0.18">p = 0.00</text>
<text x="394.80" y="405.40" font-size="7.0" fill="#231f20" textLength="42.66" lengthAdjust="spacingAndGlyphs" stroke="#231f20" stroke-width="0.18">FDR q = 0.00</text>
<line x1="388.3" y1="434.5" x2="481.3" y2="434.5" stroke="#8c8c8c" stroke-width="0.8"/>
<line x1="388.3" y1="432.2" x2="388.3" y2="493.3" stroke="#231f20" stroke-width="1.0"/>
<line x1="384.90000000000003" y1="434.50" x2="388.3" y2="434.50" stroke="#231f20" stroke-width="0.9"/>
<text x="376.82" y="437.30" font-size="8.0" fill="#231f20" textLength="4.18" lengthAdjust="spacingAndGlyphs" stroke="#231f20" stroke-width="0.08">0</text>
<line x1="384.90000000000003" y1="441.51" x2="388.3" y2="441.51" stroke="#231f20" stroke-width="0.9"/>
<text x="366.15" y="444.31" font-size="8.0" fill="#231f20" textLength="14.85" lengthAdjust="spacingAndGlyphs" stroke="#231f20" stroke-width="0.08">−0.1</text>
<line x1="384.90000000000003" y1="448.52" x2="388.3" y2="448.52" stroke="#231f20" stroke-width="0.9"/>
<text x="366.15" y="451.32" font-size="8.0" fill="#231f20" textLength="14.85" lengthAdjust="spacingAndGlyphs" stroke="#231f20" stroke-width="0.08">−0.2</text>
<line x1="384.90000000000003" y1="455.53" x2="388.3" y2="455.53" stroke="#231f20" stroke-width="0.9"/>
<text x="366.15" y="458.33" font-size="8.0" fill="#231f20" textLength="14.85" lengthAdjust="spacingAndGlyphs" stroke="#231f20" stroke-width="0.08">−0.3</text>
<line x1="384.90000000000003" y1="462.54" x2="388.3" y2="462.54" stroke="#231f20" stroke-width="0.9"/>
<text x="366.15" y="465.34" font-size="8.0" fill="#231f20" textLength="14.85" lengthAdjust="spacingAndGlyphs" stroke="#231f20" stroke-width="0.08">−0.4</text>
<line x1="384.90000000000003" y1="469.55" x2="388.3" y2="469.55" stroke="#231f20" stroke-width="0.9"/>
<text x="366.15" y="472.35" font-size="8.0" fill="#231f20" textLength="14.85" lengthAdjust="spacingAndGlyphs" stroke="#231f20" stroke-width="0.08">−0.5</text>
<line x1="384.90000000000003" y1="476.56" x2="388.3" y2="476.56" stroke="#231f20" stroke-width="0.9"/>
<text x="366.15" y="479.36" font-size="8.0" fill="#231f20" textLength="14.85" lengthAdjust="spacingAndGlyphs" stroke="#231f20" stroke-width="0.08">−0.6</text>
<line x1="384.90000000000003" y1="483.57" x2="388.3" y2="483.57" stroke="#231f20" stroke-width="0.9"/>
<text x="366.15" y="486.37" font-size="8.0" fill="#231f20" textLength="14.85" lengthAdjust="spacingAndGlyphs" stroke="#231f20" stroke-width="0.08">−0.7</text>
<line x1="384.90000000000003" y1="490.58" x2="388.3" y2="490.58" stroke="#231f20" stroke-width="0.9"/>
<text x="366.15" y="493.38" font-size="8.0" fill="#231f20" textLength="14.85" lengthAdjust="spacingAndGlyphs" stroke="#231f20" stroke-width="0.08">−0.8</text>
<line x1="390.7" y1="498.0" x2="482.3" y2="498.0" stroke="#231f20" stroke-width="1.0"/>
<line x1="394.10" y1="498.0" x2="394.10" y2="500.8" stroke="#231f20" stroke-width="0.9"/>
<text x="391.72" y="511.40" font-size="8.0" fill="#231f20" textLength="4.76" lengthAdjust="spacingAndGlyphs" stroke="#231f20" stroke-width="0.08">0</text>
<line x1="414.15" y1="498.0" x2="414.15" y2="500.8" stroke="#231f20" stroke-width="0.9"/>
<text x="407.01" y="511.40" font-size="8.0" fill="#231f20" textLength="14.28" lengthAdjust="spacingAndGlyphs" stroke="#231f20" stroke-width="0.08">500</text>
<line x1="434.20" y1="498.0" x2="434.20" y2="500.8" stroke="#231f20" stroke-width="0.9"/>
<text x="424.68" y="511.40" font-size="8.0" fill="#231f20" textLength="19.04" lengthAdjust="spacingAndGlyphs" stroke="#231f20" stroke-width="0.08">1000</text>
<line x1="454.25" y1="498.0" x2="454.25" y2="500.8" stroke="#231f20" stroke-width="0.9"/>
<text x="444.73" y="511.40" font-size="8.0" fill="#231f20" textLength="19.04" lengthAdjust="spacingAndGlyphs" stroke="#231f20" stroke-width="0.08">1500</text>
<line x1="474.30" y1="498.0" x2="474.30" y2="500.8" stroke="#231f20" stroke-width="0.9"/>
<text x="464.78" y="511.40" font-size="8.0" fill="#231f20" textLength="19.04" lengthAdjust="spacingAndGlyphs" stroke="#231f20" stroke-width="0.08">2000</text>
<polyline points="393.70,434.40 401.50,440.40 409.80,447.10 418.10,453.40 426.40,460.60 434.70,467.90 438.00,469.60 443.60,473.70 449.20,478.20 453.70,481.50 458.20,483.50 462.10,484.60 465.40,483.80 467.10,480.40 468.80,474.80 470.50,469.80 472.20,465.80 473.60,458.00 475.00,446.80 475.90,434.50" fill="none" stroke="#5a2a78" stroke-width="1.45" stroke-linejoin="round" stroke-linecap="round"/>
<text x="394.80" y="474.60" font-size="7.0" fill="#231f20" textLength="34.73" lengthAdjust="spacingAndGlyphs" stroke="#231f20" stroke-width="0.18">NES −2.56</text>
<text x="394.80" y="483.70" font-size="7.0" fill="#231f20" textLength="26.00" lengthAdjust="spacingAndGlyphs" stroke="#231f20" stroke-width="0.18">p = 0.00</text>
<text x="394.80" y="492.40" font-size="7.0" fill="#231f20" textLength="42.66" lengthAdjust="spacingAndGlyphs" stroke="#231f20" stroke-width="0.18">FDR q = 0.00</text>
<text x="398.13" y="525.50" font-size="10.3" fill="#231f20" textLength="76.41" lengthAdjust="spacingAndGlyphs" stroke="#231f20" stroke-width="0.45">Rank in ordered dataset</text>
<text transform="translate(26.10,384.47) rotate(-90)" x="0" y="0" font-size="11.2" font-weight="bold" fill="#231f20" textLength="22.38" lengthAdjust="spacingAndGlyphs" stroke="#231f20" stroke-width="0.25">MDS-L</text>
<text transform="translate(26.10,473.51) rotate(-90)" x="0" y="0" font-size="11.0" font-weight="bold" fill="#231f20" textLength="22.01" lengthAdjust="spacingAndGlyphs" stroke="#231f20" stroke-width="0.25">SKM-1</text>
<text transform="translate(38.80,402.84) rotate(-90)" x="0" y="0" font-size="7.4" fill="#231f20" textLength="60.49" lengthAdjust="spacingAndGlyphs" stroke="#231f20" stroke-width="0.18">Enrichment score</text>
<text transform="translate(39.00,490.24) rotate(-90)" x="0" y="0" font-size="7.4" fill="#231f20" textLength="60.38" lengthAdjust="spacingAndGlyphs" stroke="#231f20" stroke-width="0.18">Enrichment score</text>
</svg>
</body></html>
